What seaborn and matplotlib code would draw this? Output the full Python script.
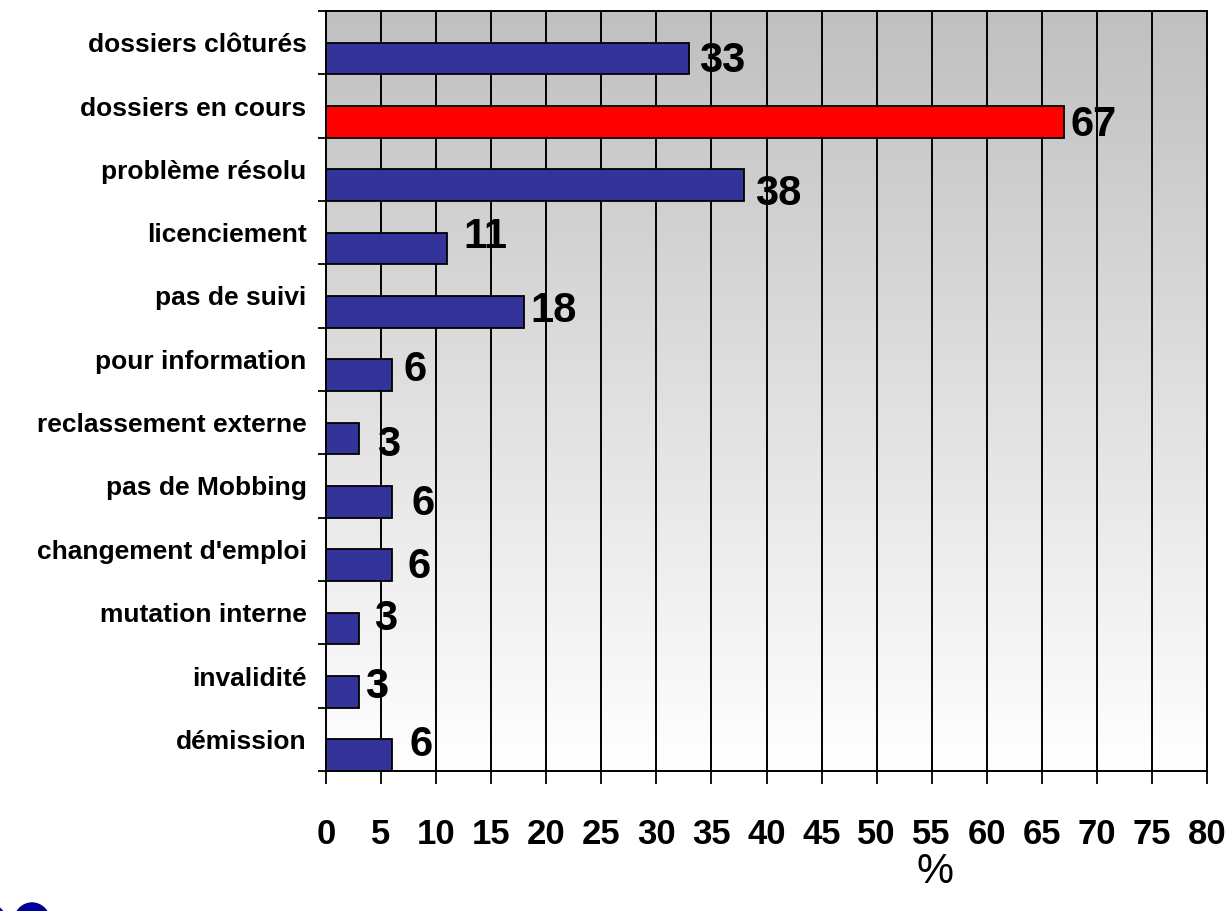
import numpy as np
import matplotlib
matplotlib.use("Agg")
import matplotlib.pyplot as plt
from matplotlib.patches import Ellipse
import seaborn as sns

# -------------------
# DATA
# -------------------
categories = [
    "dossiers clôturés", "dossiers en cours", "problème résolu", "licenciement",
    "pas de suivi", "pour information", "reclassement externe", "pas de Mobbing",
    "changement d'emploi", "mutation interne", "invalidité", "démission",
]
values = [33, 67, 38, 11, 18, 6, 3, 6, 6, 3, 3, 6]
x_ticks = list(range(0, 81, 5))

# label nudges (pixels right / up from bar end)
label_dx = [10, 7, 11, 16, 6, 11, 18, 19, 15, 15, 6, 17]
label_dy = [-3, -3, -9, 11, 1, 5, -6, -2, -2, 10, 5, 10]

bar_colors = ["#333399"] * len(values)
bar_colors[1] = "#FF0000"

# -------------------
# STYLE
# -------------------
sns.set_style("white")
plt.rcParams["font.family"] = ["Liberation Sans", "DejaVu Sans"]
plt.rcParams["text.color"] = "black"
plt.rcParams["xtick.color"] = "black"
plt.rcParams["ytick.color"] = "black"

fig = plt.figure(figsize=(12.29, 9.11), dpi=100)
ax = fig.add_axes([326 / 1229, 1 - 771 / 911, (1207 - 326) / 1229, (771 - 11) / 911])

# gradient background
grad = np.linspace(0, 1, 256).reshape(-1, 1)
ax.imshow(grad, cmap=matplotlib.colors.LinearSegmentedColormap.from_list("bg", ["#C0C0C0", "#FFFFFF"]),
          aspect="auto", extent=(0, 80, 11.25, -0.75), zorder=0, interpolation="bicubic")

# grid lines
for v in x_ticks[1:-1]:
    ax.axvline(v, color="black", lw=1.4, zorder=1)

sns.barplot(x=values, y=categories, hue=categories, palette=bar_colors, legend=False,
            width=0.5, edgecolor="black", linewidth=1.3, saturation=1, ax=ax, zorder=2)

ax.set_xlim(0, 80)
ax.set_ylim(11.25, -0.75)

for i, v in enumerate(values):
    ax.annotate(str(v), xy=(v, i), xytext=(label_dx[i], label_dy[i]), textcoords="offset pixels",
                ha="left", va="center", fontsize=30, fontweight="bold", color="black", zorder=3)

# axes, ticks
ax.set_xticks(x_ticks)
ax.set_xticklabels([str(t) for t in x_ticks], fontsize=25, fontweight="bold")
ax.tick_params(axis="x", direction="out", length=9, width=1.3, color="black", pad=25, bottom=True)

ax.set_yticks(np.arange(len(categories)) - 0.25)
ax.set_yticklabels(categories, fontsize=19, fontweight="bold")
ax.set_yticks(np.arange(-1, len(categories)) + 0.25, minor=True)
ax.tick_params(axis="y", which="major", length=0, pad=14)
ax.tick_params(axis="y", which="minor", direction="out", length=6, width=1.3, color="black", left=True)
ax.set_xlabel("")
ax.set_ylabel("")

for s in ax.spines.values():
    s.set_visible(True)
    s.set_color("black")
    s.set_linewidth(1.4)

fig.text(935 / 1229, 1 - 872 / 911, "%", ha="center", va="center", fontsize=30)

# logo fragment, bottom-left
fig.patches.append(Ellipse((32 / 1229, 1 - 922 / 911), 36 / 1229, 38 / 911,
                           transform=fig.transFigure, color="#000099", figure=fig))
fig.patches.append(Ellipse((-6 / 1229, 1 - 924 / 911), 24 / 1229, 36 / 911,
                           transform=fig.transFigure, color="#000099", figure=fig))

plt.savefig("out.png", dpi=100)
